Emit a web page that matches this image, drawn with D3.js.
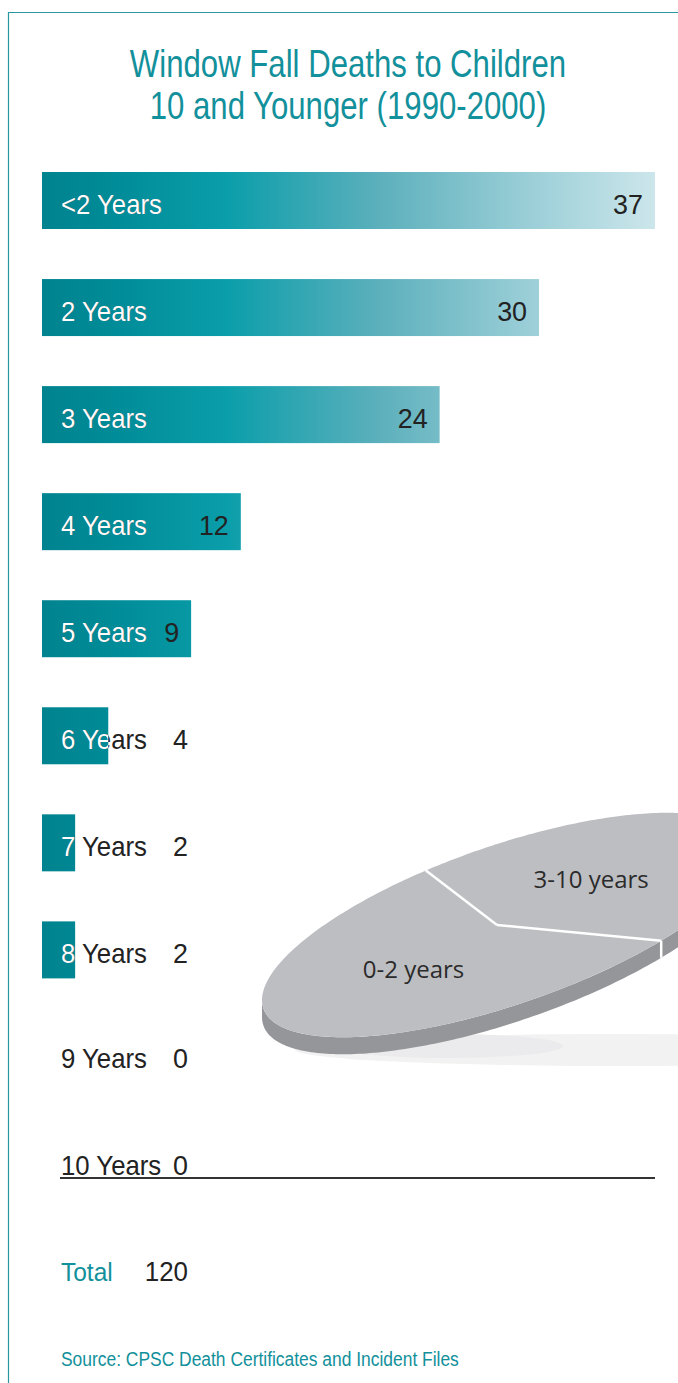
<!DOCTYPE html>
<html><head><meta charset="utf-8">
<script src="https://cdn.jsdelivr.net/npm/d3@7"></script>
<style>
html,body{margin:0;padding:0;background:#fff;}
svg{display:block;}
</style></head>
<body>
<script>
// ---- data ----
const titleLines = ["Window Fall Deaths to Children", "10 and Younger (1990-2000)"];
const categories = ["<2 Years","2 Years","3 Years","4 Years","5 Years","6 Years","7 Years","8 Years","9 Years","10 Years"];
const values = [37, 30, 24, 12, 9, 4, 2, 2, 0, 0];
const totalLabel = "Total";
const pieLabels = ["0-2 years", "3-10 years"];
const pieValues = [67, 53];
const sourceText = "Source: CPSC Death Certificates and Incident Files";

// ---- setup ----
const W = 678, H = 1383;
const teal = "#12909b", dark = "#222";
const sans = "'Liberation Sans',Arial,sans-serif";
const svg = d3.select("body").append("svg").attr("width", W).attr("height", H);
const defs = svg.append("defs");

// condensed text placement helper
function place(sel, fx, fy, sx) {
  sel.attr("transform", (d,i)=>`translate(${fx(d,i)},${fy(d,i)}) scale(${sx},1)`);
}

// frame
svg.append("path").attr("d", `M8.5,${H} V12.5 H${W}`).attr("fill","none").attr("stroke","#2a96a0").attr("stroke-width",1.2);

// title
const tt = svg.append("g").selectAll("text").data(titleLines).join("text")
  .attr("text-anchor","middle").attr("fill", teal)
  .style("font-family", sans).style("font-size","38px")
  .text(d=>d);
place(tt, ()=>348, (d,i)=>77 + i*42, 0.82);

// scales
const x = d3.scaleLinear().domain([0, d3.max(values)]).range([42, 655]);
const y = d3.scalePoint().domain(categories).range([200.5, 1164]);
const step = y.step();
const barH = 57;

// gradient (user space, shared by all bars)
const grad = defs.append("linearGradient").attr("id","barGrad")
  .attr("gradientUnits","userSpaceOnUse")
  .attr("x1", x(0)).attr("x2", x(d3.max(values))).attr("y1",0).attr("y2",0);
[[0,"#00838f"],[0.12,"#008c98"],[0.3,"#0a9eaa"],[0.55,"#5cb0bc"],[0.8,"#9ccfd8"],[1,"#cce6eb"]]
  .forEach(([o,c])=>grad.append("stop").attr("offset",o).attr("stop-color",c));

const rows = categories.map((c,i)=>({cat:c, v:values[i], i}));
const baseY = d => y(d.cat) + (d.v > 0 ? 13 : 11);

// bars
svg.append("g").selectAll("rect").data(rows.filter(d=>d.v>0)).join("rect")
  .attr("x", x(0)).attr("y", d=>y(d.cat)-barH/2)
  .attr("width", d=>x(d.v)-x(0)).attr("height", barH)
  .attr("fill","url(#barGrad)");

// clip paths for white label parts
rows.forEach(d=>{
  defs.append("clipPath").attr("id","clip"+d.i).append("rect")
    .attr("x", x(0)).attr("y", y(d.cat)-barH/2)
    .attr("width", Math.max(0, x(d.v)-x(0))).attr("height", barH);
});

const labelFont = "28px", labelSX = 0.92;
// dark labels
const dl = svg.append("g").selectAll("text").data(rows).join("text")
  .attr("fill", dark).style("font-family", sans).style("font-size", labelFont)
  .text(d=>d.cat);
place(dl, ()=>61, baseY, labelSX);
// white labels clipped to bar
const wl = svg.append("g").selectAll("g").data(rows.filter(d=>d.v>0)).join("g")
  .attr("clip-path", d=>`url(#clip${d.i})`)
  .append("text")
  .attr("fill", "#fff").style("font-family", sans).style("font-size", labelFont)
  .text(d=>d.cat);
place(wl, ()=>61, baseY, labelSX);

// value labels
const valX = v => v >= 5 ? x(v) - 12 : 188;
const vl = svg.append("g").selectAll("text").data(rows).join("text")
  .attr("text-anchor","end")
  .attr("fill", dark).style("font-family", sans).style("font-size", "28px")
  .text(d=>d.v);
place(vl, d=>valX(d.v), baseY, 0.96);

// underline below last row
const lastY = y(categories[categories.length-1]);
svg.append("line").attr("x1",60).attr("x2",655).attr("y1",lastY+14).attr("y2",lastY+14)
  .attr("stroke","#333").attr("stroke-width",2);

// total
const totY = lastY + step;
const tl = svg.append("text").attr("fill",teal)
  .style("font-family",sans).style("font-size","25px").text(totalLabel);
place(tl, ()=>61, ()=>totY+10, 0.98);
const tv = svg.append("text").attr("text-anchor","end").attr("fill",dark)
  .style("font-family",sans).style("font-size","27px").text(d3.sum(values));
place(tv, ()=>188, ()=>totY+10, 0.96);

// source
const st = svg.append("text").attr("fill",teal)
  .style("font-family",sans).style("font-size","21px").text(sourceText);
place(st, ()=>61, ()=>1366, 0.83);

// ---- 3D pie (parallel projection of a disc) ----
const pg = svg.append("g");
const C = [505, 925];          // disc centre on screen
const E1 = [243, -75], E2 = [0, 83.5];  // conjugate half-diameters
const V = [497, 925];          // slice vertex
const depth = 17;
const P = (t, dy=0) => [C[0] + Math.cos(t)*E1[0] + Math.sin(t)*E2[0],
                        C[1] + Math.cos(t)*E1[1] + Math.sin(t)*E2[1] + dy];
const line = d3.line();
const rng = (a,b,n)=>d3.range(n+1).map(i=>a+(b-a)*i/n);

// shadow
pg.append("ellipse").attr("cx",615).attr("cy",1050).attr("rx",320).attr("ry",16).attr("fill","#f2f2f3");
pg.append("ellipse").attr("cx",448).attr("cy",1046).attr("rx",115).attr("ry",12).attr("fill","#ebebed");

// side face (visible from t=0 to t=PI)
const sideTs = rng(0, Math.PI, 160);
const sidePts = sideTs.map(t=>P(t)).concat(sideTs.slice().reverse().map(t=>P(t,depth)));
pg.append("path").attr("d", line(sidePts)+"Z").attr("fill","#95969a");

// slices
const t0 = 50*Math.PI/180;
const arcs = d3.pie().sort(null).startAngle(t0).endAngle(t0+2*Math.PI)(pieValues);
arcs.forEach(a=>{
  const pts = [V].concat(rng(a.startAngle, a.endAngle, 160).map(t=>P(t)));
  pg.append("path").attr("d", line(pts)+"Z").attr("fill","#bdbec2");
});
// separators
arcs.forEach(a=>{
  pg.append("path").attr("d", line([V, P(a.startAngle)])).attr("stroke","#fff").attr("stroke-width",2.5).attr("fill","none");
  const s = ((a.startAngle % (2*Math.PI)) + 2*Math.PI) % (2*Math.PI);
  if (s > 0 && s < Math.PI) {
    pg.append("path").attr("d", line([P(s), P(s,depth)])).attr("stroke","#fff").attr("stroke-width",2.5).attr("fill","none");
  }
});
// labels
const lp = d => { const t=(d.startAngle+d.endAngle)/2, p=P(t);
  return [V[0] + 0.42*(p[0]-V[0]) + 2, V[1] + 0.42*(p[1]-V[1])]; };
pg.selectAll("text.pl").data(arcs).join("text").attr("class","pl")
  .attr("x", d=>lp(d)[0]).attr("y", d=>lp(d)[1]+8)
  .attr("text-anchor","middle").attr("fill","#2b2b2b")
  .style("font-family","'Open Sans',sans-serif").style("font-size","24px")
  .text((d,i)=>pieLabels[i]);
</script>
</body></html>
